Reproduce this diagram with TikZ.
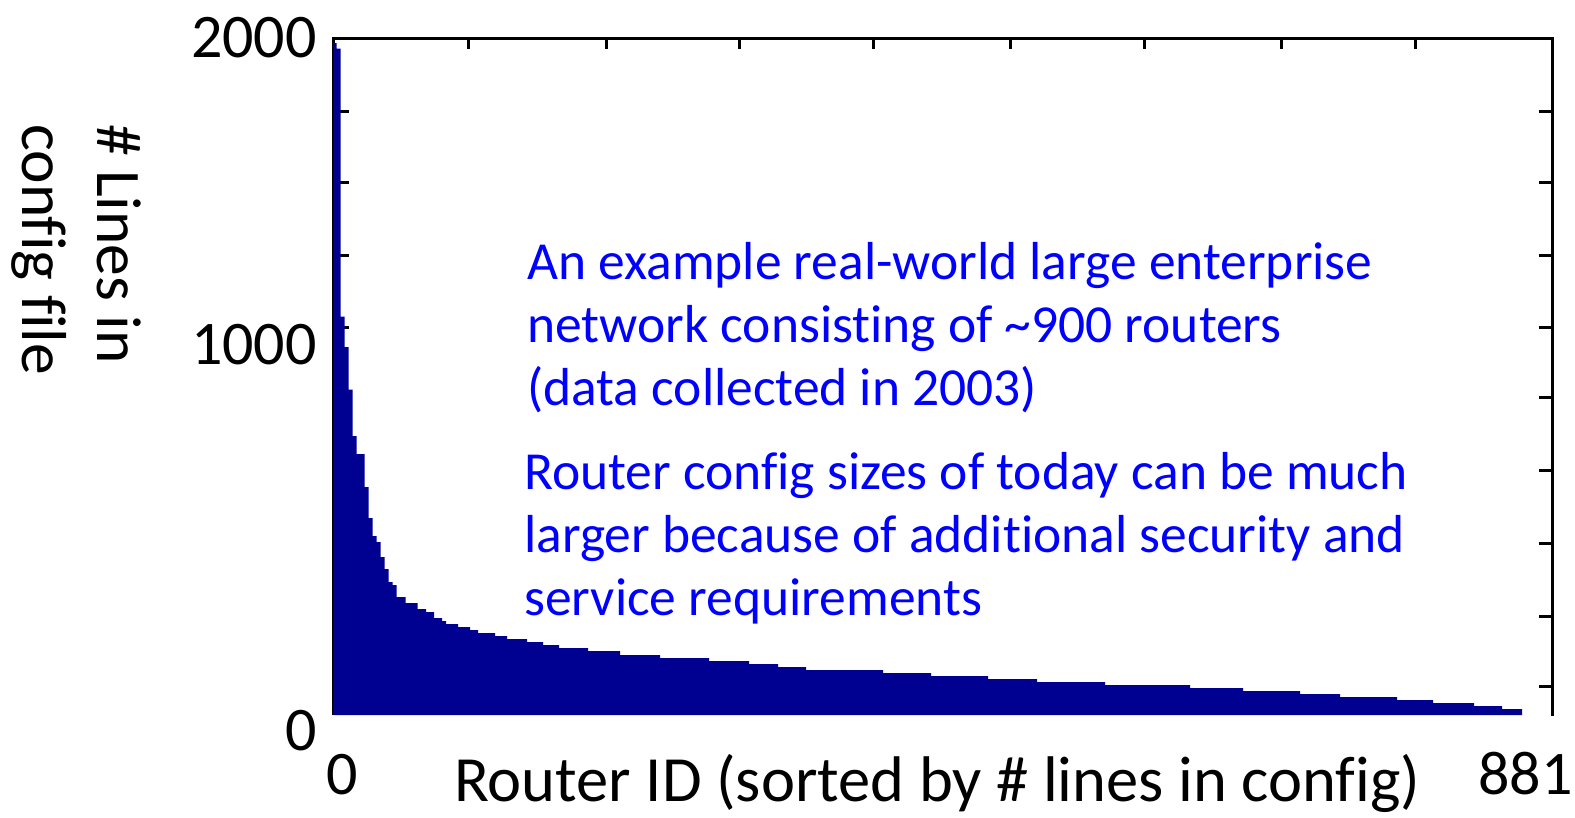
\documentclass[tikz,border=0pt]{standalone}
\usepackage{fontspec}
\setmainfont{Carlito}[Ligatures=NoCommon]
\definecolor{barblue}{RGB}{0,0,145}
\definecolor{noteblue}{RGB}{0,0,255}
\tikzset{
  axisline/.style={line width=3pt, black},
  tickmark/.style={line width=3pt, black},
  ticklabel/.style={inner sep=0pt, font=\fontsize{62}{62}\selectfont},
  axislabel/.style={inner sep=0pt, font=\fontsize{63.5}{63.5}\selectfont},
  note/.style={inner sep=0pt, text=noteblue, font=\fontsize{53.5}{63}\selectfont, anchor=base west},
}
\begin{document}
\begin{tikzpicture}[x=1pt,y=-1pt]
\useasboundingbox (0,0) rectangle (1575,817);
% ticks
\foreach \tx in {468,606,739,873,1010,1144,1281,1415}
  \draw[tickmark] (\tx,38) -- (\tx,49);
\foreach \ty in {111,182,255,327.5,397,470,543,616,686}{
  \draw[tickmark] (1552,\ty) -- (1539,\ty);
  \draw[tickmark] (333,\ty) -- (349,\ty);
}
% frame
\draw[axisline] (333,715) -- (333,38.3) -- (1552,38.3) -- (1552,716);
% bars
\fill[barblue] (333.3,715)
  |- (336.7,43) |- (340.7,48.7) |- (344.7,316.7) |- (348.7,347) |- (352.7,389.7)
  |- (356.7,436) |- (364.7,454) |- (368.7,487) |- (372.7,518) |- (376.7,536)
  |- (380.7,542) |- (384.7,557) |- (388.7,569) |- (392.7,582) |- (396.7,585)
  |- (405.7,597) |- (417.7,603) |- (426,609) |- (434,612) |- (442,618)
  |- (446,621) |- (458,624) |- (470,627) |- (478,630) |- (495,633)
  |- (507,636) |- (527,639) |- (543,642) |- (559,645) |- (588,648)
  |- (620,651) |- (660,655) |- (709,658) |- (749,661) |- (778,664)
  |- (806,667) |- (883,670) |- (931,673) |- (988,676) |- (1037,679)
  |- (1105,682) |- (1190,685) |- (1243,688) |- (1300,691) |- (1340,694)
  |- (1397,697) |- (1433,700) |- (1474,703) |- (1502,706) |- (1522,709)
  -- (1522,715) -- cycle;
% tick labels
\node[ticklabel, anchor=base east] (y2000) at (317,57) {2000};
\node[ticklabel, anchor=base east] (y1000) at (317,364) {1000};
\node[ticklabel, anchor=base east] (y0) at (317,750) {0};
\node[ticklabel, anchor=base west] (x0) at (326,794) {0};
\node[ticklabel, anchor=base east] (x881) at (1573,794) {881};
% axis labels
\node[axislabel, anchor=base west, font=\fontsize{64.5}{64.5}\selectfont] (xlab) at (454,801) {Router ID (sorted by \# lines in config)};
\node[axislabel, anchor=base west, rotate=-90] (ylab1) at (97,124) {\# Lines in};
\node[axislabel, anchor=base west, rotate=-90] (ylab2) at (22,124) {config file};
% notes
\node[note] (n1a) at (527,279) {An example real-world large enterprise};
\node[note] (n1b) at (527,342) {network consisting of \textasciitilde900 routers};
\node[note] (n1c) at (527,405) {(data collected in 2003)};
\node[note] (n2a) at (524,489) {Router config sizes of today can be much};
\node[note] (n2b) at (524,552) {larger because of additional security and};
\node[note] (n2c) at (524,615) {service requirements};
\end{tikzpicture}
\end{document}
